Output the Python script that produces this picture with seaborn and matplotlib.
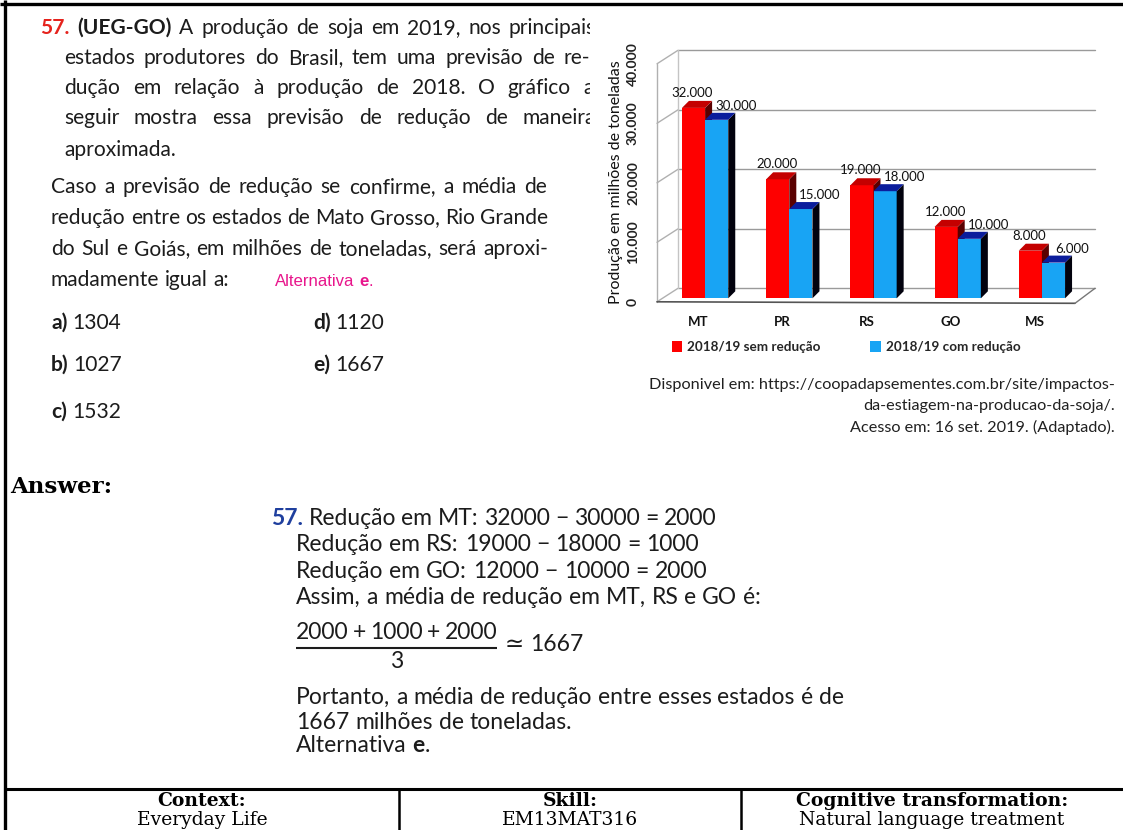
import numpy as np
import pandas as pd
import matplotlib
matplotlib.use("Agg")
import matplotlib.pyplot as plt
import seaborn as sns
from matplotlib.lines import Line2D
from matplotlib.patches import Polygon
from matplotlib.transforms import (Bbox, TransformedBbox, IdentityTransform,
                                   ScaledTranslation)

# ---------------- data ----------------
estados = ["MT", "PR", "RS", "GO", "MS"]
sem_reducao = [32000, 20000, 19000, 12000, 8000]
com_reducao = [30000, 15000, 18000, 10000, 6000]
series = ["2018/19 sem redução", "2018/19 com redução"]
y_ticks = [0, 10000, 20000, 30000, 40000]
alternativas = [("a)", "1304"), ("b)", "1027"), ("c)", "1532"), ("d)", "1120"), ("e)", "1667")]

# ---------------- figure ----------------
W, H = 1123, 830
sns.set_theme(style="white")
SANS = ["Lato", "DejaVu Sans"]
SERIF = ["DejaVu Serif", "Liberation Serif"]
ARIAL = ["Liberation Sans", "DejaVu Sans"]
plt.rcParams["font.family"] = SANS
fig = plt.figure(figsize=(W / 100, H / 100), dpi=100)
fig.patch.set_facecolor("white")
renderer = fig.canvas.get_renderer()


def fx(x):
    return x / W


def fy(y):
    return 1 - y / H


def measure(s, **kw):
    t = fig.text(0, 0, s, **kw)
    w = t.get_window_extent(renderer).width
    t.remove()
    return w


def space_width(**kw):
    return measure("n n", **kw) - measure("nn", **kw)


def draw_line(x, y, tokens, right=None, clip=None):
    """Draw a line of words; each token is a list of (text, style) pieces."""
    widths = [[measure(s, **st) for s, st in tok] for tok in tokens]
    total = sum(sum(w) for w in widths)
    if right is not None and len(tokens) > 1:
        gap = (right - x - total) / (len(tokens) - 1)
    else:
        gap = space_width(**tokens[0][0][1])
    cx = x
    for tok, tw in zip(tokens, widths):
        for (s, st), w in zip(tok, tw):
            t = fig.text(fx(cx), fy(y), s, ha="left", va="baseline", **st)
            if clip is not None:
                t.set_clip_box(clip)
                t.set_clip_on(True)
            cx += w
        cx += gap


def words(text, st):
    return [[(w, st)] for w in text.split()]


# ---------------- frame lines ----------------
def fline(xs, ys, lw, color="black"):
    fig.add_artist(Line2D([fx(v) for v in xs], [fy(v) for v in ys],
                          transform=fig.transFigure, lw=lw, color=color,
                          solid_capstyle="butt"))


fline([0, W], [4, 4], 2.4)
fline([5, 5], [0, H], 2.4)
fline([5, W], [789, 789], 2.2)
fline([399, 399], [789, H], 1.8)
fline([741, 741], [789, H], 1.8)

# ---------------- question text ----------------
ref_line = "redução entre os estados de Mato Grosso, Rio Grande"
q_size = 12 * 497 / measure(ref_line, fontsize=12, family=SANS)
TXT = "#1c1c1c"
R = dict(fontsize=q_size, family=SANS, color=TXT)
B = dict(fontsize=q_size, family=SANS, color=TXT, fontweight="bold")
RB = dict(fontsize=q_size, family=SANS, color="#e5231d", fontweight="bold")
MAG = dict(fontsize=q_size * 0.80, family=ARIAL, color="#e8168c")
MAGB = dict(fontsize=q_size * 0.80, family=ARIAL, color="#e8168c", fontweight="bold")

clip = TransformedBbox(Bbox.from_extents(0, 0, fx(590), 1), fig.transFigure)

draw_line(40, 34, [[("57.", RB)], [("(UEG-GO)", B)]] +
          words("A produção de soja em 2019, nos principais", R), right=596, clip=clip)
draw_line(64, 64, words("estados produtores do Brasil, tem uma previsão de re-", R),
          right=590, clip=clip)
draw_line(64, 94, words("dução em relação à produção de 2018. O gráfico a", R),
          right=594, clip=clip)
draw_line(64, 124, words("seguir mostra essa previsão de redução de maneira", R),
          right=596, clip=clip)
draw_line(64, 156, words("aproximada.", R))

draw_line(51, 193, words("Caso a previsão de redução se confirme, a média de", R), right=547)
draw_line(51, 224, words("redução entre os estados de Mato Grosso, Rio Grande", R), right=548)
draw_line(51, 255, words("do Sul e Goiás, em milhões de toneladas, será aproxi-", R), right=548)
draw_line(51, 286, words("madamente igual a:", R))
draw_line(275, 286, [[("Alternativa", MAG)], [("e", MAGB), (".", MAG)]])

alt_pos = {"a)": (51, 329), "b)": (51, 371), "c)": (51, 418),
           "d)": (313, 329), "e)": (313, 371)}
for letra, valor in alternativas:
    x, y = alt_pos[letra]
    draw_line(x, y, [[(letra, B)], [(valor, R)]])

# ---------------- source note ----------------
src_lines = ["Disponivel em: https://coopadapsementes.com.br/site/impactos-",
             "da-estiagem-na-producao-da-soja/.",
             "Acesso em: 16 set. 2019. (Adaptado)."]
s_size = 11 * 467 / measure(src_lines[0], fontsize=11, family=SANS)
for txt, y in zip(src_lines, [389, 410, 432]):
    fig.text(fx(1115), fy(y), txt, ha="right", va="baseline",
             fontsize=s_size, family=SANS, color="#202020")

# ---------------- answer ----------------
fig.text(fx(10), fy(493), "Answer:", ha="left", va="baseline",
         fontsize=16.5, family=SERIF, fontweight="bold", color="black")

a_ref = "Portanto, a média de redução entre esses estados é de"
a_size = 12 * 544 / measure(a_ref, fontsize=12, family=SANS)
AR = dict(fontsize=a_size, family=SANS, color=TXT)
AB = dict(fontsize=a_size, family=SANS, color=TXT, fontweight="bold")
ABLUE = dict(fontsize=a_size, family=SANS, color="#1f3f9e", fontweight="bold")

draw_line(271, 525, [[("57.", ABLUE)]] + words("Redução em MT: 32000 − 30000 = 2000", AR))
draw_line(296, 551, words("Redução em RS: 19000 − 18000 = 1000", AR))
draw_line(296, 578, words("Redução em GO: 12000 − 10000 = 2000", AR))
draw_line(296, 604, words("Assim, a média de redução em MT, RS e GO é:", AR))
draw_line(296, 639, words("2000 + 1000 + 2000", AR), right=497)
fline([296, 497], [648, 648], 1.5, TXT)
draw_line(505, 651, [[("≃", AR)], [("1667", AR)]])
fig.text(fx(397), fy(668), "3", ha="center", va="baseline", **AR)
draw_line(296, 704, words(a_ref, AR))
draw_line(296, 729, words("1667 milhões de toneladas.", AR))
draw_line(296, 752, [[("Alternativa", AR)], [("e", AB), (".", AR)]])

# ---------------- table ----------------
for xc, head, body in [(202, "Context:", "Everyday Life"),
                       (570, "Skill:", "EM13MAT316"),
                       (932, "Cognitive transformation:", "Natural language treatment")]:
    fig.text(fx(xc), fy(806), head, ha="center", va="baseline", fontsize=13.5,
             family=SERIF, fontweight="bold", color="black")
    fig.text(fx(xc), fy(825), body, ha="center", va="baseline", fontsize=13.5,
             family=SERIF, color="black")

# ---------------- chart ----------------
RED, BLUE = "#fe0000", "#18a4f4"
RED_TOP, RED_SIDE = "#c40000", "#5a0000"
BLUE_TOP, BLUE_SIDE = "#0b1d9c", "#02020e"

ax_l, ax_r, y0_px, ytop_px = 663, 1084, 298.3, 60.3
ax = fig.add_axes([fx(ax_l), fy(y0_px), (ax_r - ax_l) / W, (y0_px - ytop_px) / H])
df = pd.DataFrame({
    "estado": estados * 2,
    "serie": [series[0]] * len(estados) + [series[1]] * len(estados),
    "valor": sem_reducao + com_reducao,
})
sns.barplot(data=df, x="estado", y="valor", hue="serie", palette=[RED, BLUE],
            width=0.55, saturation=1, linewidth=0, ax=ax)
ax.set_xlim(-0.5, len(estados) - 0.5)
ax.set_ylim(0, 40000)
ax.set_facecolor("none")
for s in ax.spines.values():
    s.set_visible(False)
ax.set_yticks([])
ax.set_xlabel("")
ax.set_ylabel("")
ax.grid(False)
ax.tick_params(axis="x", length=0, pad=13, labelsize=9.5, colors="#111111")
for lab in ax.get_xticklabels():
    lab.set_fontweight("bold")
    lab.set_transform(lab.get_transform() + ScaledTranslation(-0.07, 0, fig.dpi_scale_trans))

tD = ax.transData
axL = ax.transAxes.transform((0, 0))[0]
axR = ax.transAxes.transform((1, 0))[0]


def ydisp(v):
    return tD.transform((0, v))[1]


def wall_line(xs, ys, color, lw=1.0, z=0.5):
    ln = Line2D(xs, ys, transform=IdentityTransform(), color=color, lw=lw, zorder=z)
    ax.add_line(ln)
    ln.set_clip_on(False)


# back wall grid, left wall and floor
for v in y_ticks:
    yb = ydisp(v) + 10
    wall_line([axL + 15, axR + 11], [yb, yb], "#9a9a9a")
    wall_line([axL - 6, axL + 15], [ydisp(v) - 3.5, yb], "#b0b0b0")
wall_line([axL - 6, axL - 6], [ydisp(0) - 3.5, ydisp(40000) - 3.5], "#b0b0b0")
wall_line([axL + 15, axL + 15], [ydisp(0) + 10, ydisp(40000) + 10], "#c4c4c4")
wall_line([axL - 6, axR - 9], [ydisp(0) - 3.5, ydisp(0) - 5], "#555555", 1.2)
wall_line([axR - 9, axR + 11], [ydisp(0) - 5, ydisp(0) + 10], "#777777", 1.0)

for v in y_ticks:
    ax.annotate(f"{v:,.0f}".replace(",", "."), xy=(0, v),
                xycoords=("axes fraction", "data"), xytext=(-30, -3.5),
                textcoords="offset pixels", rotation=90, ha="center", va="center",
                fontsize=10, fontweight="bold", color="#222222", annotation_clip=False)
ax.text(-0.112, 0.49, "Produção em milhões de toneladas", transform=ax.transAxes,
        rotation=90, ha="center", va="center", fontsize=11.5, color="#111111")

# 3-D faces and value labels
D = 7
for i, (cont, vals, top_c, side_c, dx, dy) in enumerate(zip(
        ax.containers, [sem_reducao, com_reducao], [RED_TOP, BLUE_TOP],
        [RED_SIDE, BLUE_SIDE], [-1, 19], [15, 14])):
    z = 2 + i
    for bar, v in zip(cont, vals):
        bar.set_zorder(z)
        x0 = bar.get_x()
        x1 = x0 + bar.get_width()
        (X0, Y0), (X1, Y1) = tD.transform([(x0, 0), (x1, v)])
        side = Polygon([(X1, Y0), (X1, Y1), (X1 + D, Y1 + D), (X1 + D, Y0 + D)],
                       closed=True, fc=side_c, ec="none", zorder=z + 0.1,
                       transform=IdentityTransform())
        top = Polygon([(X0, Y1), (X1, Y1), (X1 + D, Y1 + D), (X0 + D, Y1 + D)],
                      closed=True, fc=top_c, ec="none", zorder=z + 0.1,
                      transform=IdentityTransform())
        for p in (side, top):
            ax.add_patch(p)
            p.set_clip_on(False)
        ax.annotate(f"{v:,.0f}".replace(",", "."), xy=((x0 + x1) / 2, v),
                    xytext=(dx, dy), textcoords="offset pixels", ha="center",
                    va="center", fontsize=9.5, color="#111111", zorder=6,
                    annotation_clip=False)

sns.move_legend(ax, "center", bbox_to_anchor=(0.435, -0.205), ncol=2, title=None,
                frameon=False, handlelength=0.8, handleheight=0.8,
                handletextpad=0.35, columnspacing=3.7,
                prop=dict(weight="bold", size=9.7, family=SANS))

fig.savefig("out.png", dpi=100, facecolor="white")
